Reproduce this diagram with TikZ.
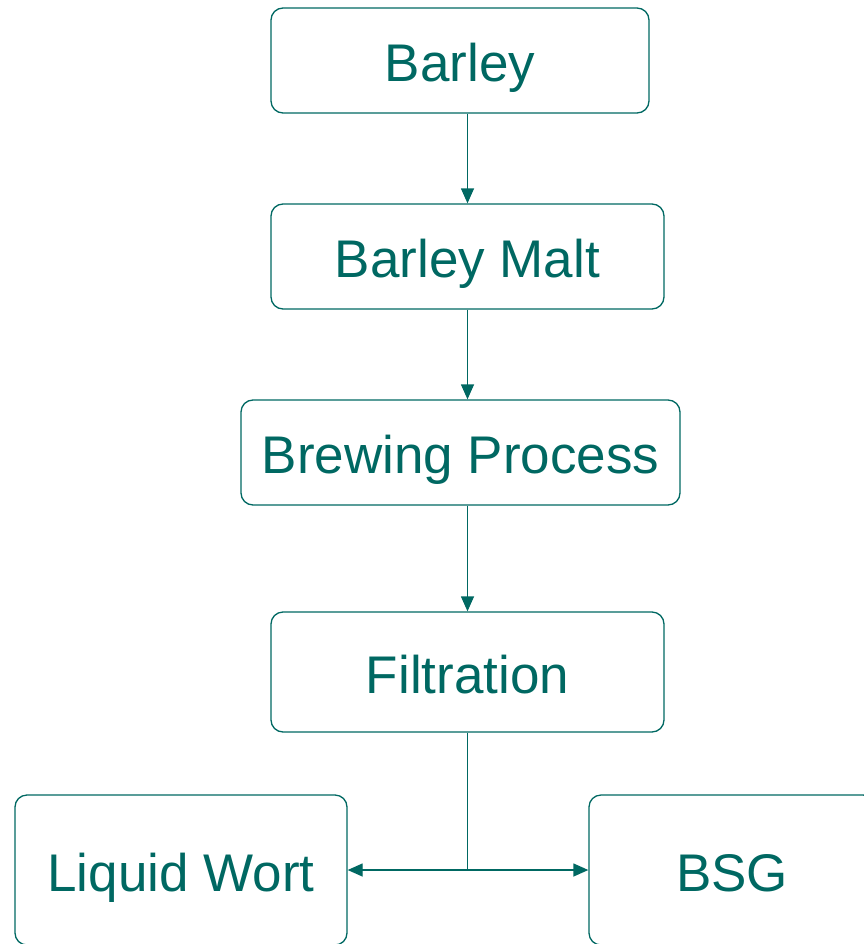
\documentclass[tikz,border=0pt]{standalone}
\usepackage{fontspec}
\setmainfont{Liberation Sans}
\usetikzlibrary{arrows.meta, positioning}
\definecolor{teal}{RGB}{0,104,98}

\begin{document}
\begin{tikzpicture}[
	x=1pt, y=-1pt,
	stage/.style={draw=teal, line width=1.3pt, rounded corners=12pt, text=teal, font=\fontsize{53}{60}\selectfont, inner sep=0pt, text height=42pt, text depth=0pt},
	flow/.style={draw=teal, line width=1.3pt, -{Triangle[length=15pt, width=13pt]}}
	]
	\useasboundingbox (0,0) rectangle (863,944);
	
	% --- STAGES ---
	\node[stage, minimum width=378pt, minimum height=105pt] (barley) at (460,60.5) {Barley};
	\node[stage, minimum width=393pt, minimum height=105pt] (malt) at (467.5,256.5) {Barley Malt};
	\node[stage, minimum width=439pt, minimum height=105pt] (brewing) at (460.5,452.5) {Brewing Process};
	\node[stage, minimum width=393pt, minimum height=120pt] (filtration) at (467.5,672) {Filtration};
	\node[stage, minimum width=332pt, minimum height=150pt] (wort) at (181,870) {Liquid Wort};
	\node[stage, minimum width=286pt, minimum height=150pt] (bsg) at (732,870) {BSG};
	\coordinate (split) at (filtration.south |- wort.east);
	
	% --- CONNECTORS ---
	\draw[flow] (malt.north |- barley.south) -- (malt.north);
	\draw[flow] (malt.south) -- (malt.south |- brewing.north);
	\draw[flow] (filtration.north |- brewing.south) -- (filtration.north);
	\draw[draw=teal, line width=1.3pt] (filtration.south) -- (split);
	\draw[flow] (split) -- (wort.east);
	\draw[flow] (split) -- (bsg.west);
	
\end{tikzpicture}
\end{document}
